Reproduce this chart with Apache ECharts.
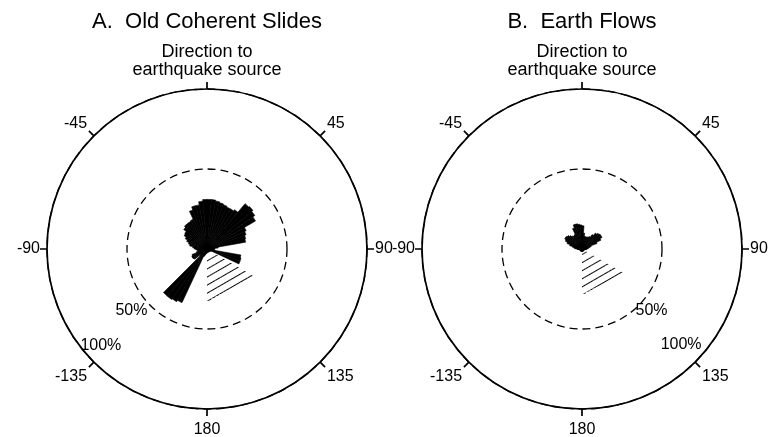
<!DOCTYPE html>
<html><head><meta charset="utf-8">
<script src="https://cdn.jsdelivr.net/npm/echarts@6.0.0/dist/echarts.min.js"></script>
<style>html,body{margin:0;padding:0;background:#fff}#c{width:772px;height:437px}</style>
</head><body><div id="c"></div>
<script>
// 5-degree direction bins, clockwise from the direction to the earthquake source
const binLabels = ['0','5','10','15','20','25','30','35','40','45','50','55','60','65','70','75','80','85',
  '90','95','100','105','110','115','120','125','130','135','140','145','150','155','160','165','170','175',
  '180','185','190','195','200','205','210','215','220','225','230','235','240','245','250','255','260','265',
  '270','275','280','285','290','295','300','305','310','315','320','325','330','335','340','345','350','355'];

// A. Old coherent slides (percent of slides per bin)
const slidesSolid = [31,31,30.5,30,29.5,29,29,30,37,37.5,36.5,35,27,26,25,24.5,7,5,
  4,5,21.5,22,22,3,2,2,2,2,2,2,2,2,2,2,2,2,
  2,3,3,4,5,37,38,38.5,38.5,6,10,10.5,10.5,10,7,6,6,7,
  8,9,11,12,13.5,15,16.5,17,19,20,20,20,20.5,26,28,28,30,31];
const slidesHatched = [null,null,null,null,null,null,null,null,null,null,null,null,null,null,null,null,null,null,
  null,null,null,null,null,null,33,31.5,30.5,29.7,29.2,29,29,29.1,29.5,30.1,31.1,32.3,
  null,null,null,null,null,null,null,null,null,null,null,null,null,null,null,null,null,null,
  null,null,null,null,null,null,null,null,null,null,null,null,null,null,null,null,null,null];

// B. Earth flows
const flowsSolid = [14.5,10,8,8,8,8.5,9,11,13,14,14.5,14.5,13,10,6,5,4,3.5,
  3,2.5,1.5,1.5,1.5,1.5,1.5,1.5,1.5,1.5,1.5,1.5,1.5,1.5,1.5,1.5,1.5,1.5,
  1.5,1.5,1.5,1.5,1.5,1.5,1.5,1.5,1.5,1.5,1.5,1.5,1.5,1.5,1.5,1.5,2.5,3,
  4,5,6,8,10,11.5,12.5,12.5,12,11,10,9.5,10,14,16,16,15.5,15];
const flowsHatched = [null,null,null,null,null,null,null,null,null,null,null,null,null,null,null,null,null,null,
  null,null,null,null,null,null,29.5,28.2,27.2,26.4,25.9,25.6,25.45,25.5,25.8,26.3,27,28,
  null,null,null,null,null,null,null,null,null,null,null,null,null,null,null,null,null,null,
  null,null,null,null,null,null,null,null,null,null,null,null,null,null,null,null,null,null];

const tickAngles = [0,45,90,135,180,225,270,315];
const tickLabels = ['','45','90','135','180','-135','-90','-45'];
const panelTitles = ['A.  Old Coherent Slides','B.  Earth Flows'];
const sourceLabel = 'Direction to\nearthquake source';
const radiusLabels = ['50%','100%'];
const radiusLabelValues = [50,100];
const radiusLabelAngles = [225,135];

const FONT = '"Liberation Sans", Arial, Helvetica, sans-serif';
const panels = [
  {cx:207, cy:249, solid:slidesSolid, hatched:slidesHatched, offsets:[[-19,5],[7,-17]]},
  {cx:582, cy:249, solid:flowsSolid, hatched:flowsHatched, offsets:[[13,5],[-14,-18]]}
];
const R = 160;
// per-angle label padding styles (rich text)
const labelStyleKey = {0:'n',45:'du',90:'e',135:'dl',180:'s',225:'dl',270:'w',315:'du'};
const rich = {
  n:{padding:[4,4,4,4]},
  du:{padding:[0,4,1,4]},
  dl:{padding:[4,4,4,4]},
  e:{padding:[0,0,0,4]},
  w:{padding:[0,3,0,0]},
  s:{padding:[9,0,0,0]}
};

const polar = [], angleAxis = [], radiusAxis = [], series = [], title = [];
panels.forEach((p, k) => {
  const bi = polar.length;
  polar.push({center:[p.cx,p.cy], radius:R});
  polar.push({center:[p.cx,p.cy], radius:R});
  angleAxis.push({polarIndex:bi, type:'category', data:binLabels, boundaryGap:true, startAngle:90, clockwise:true,
    axisLine:{show:false}, axisTick:{show:false}, axisLabel:{show:false}, splitLine:{show:false}, splitArea:{show:false}});
  const richK = {};
  Object.keys(rich).forEach(key => { richK[key] = Object.assign({fontSize:16, color:'#000', fontFamily:FONT}, rich[key]); });
  angleAxis.push({polarIndex:bi+1, type:'value', min:0, max:360, interval:45, startAngle:90, clockwise:true,
    axisLine:{show:true, lineStyle:{color:'#000', width:1.7}},
    axisTick:{show:true, length:7, lineStyle:{color:'#000', width:1.7}},
    axisLabel:{show:true, margin:4, fontSize:16, color:'#000', fontFamily:FONT, rich:richK,
      formatter:(v)=>{const i=tickAngles.indexOf(v); if(i<0||!tickLabels[i]) return ''; return '{'+labelStyleKey[v]+'|'+tickLabels[i]+'}';}},
    splitLine:{show:false}, splitArea:{show:false}});
  radiusAxis.push({polarIndex:bi, type:'value', min:0, max:100, interval:50,
    axisLine:{show:false}, axisTick:{show:false}, axisLabel:{show:false},
    splitLine:{show:true, lineStyle:{color:'#000', width:1.3, type:[8,5]}}, splitArea:{show:false}});
  radiusAxis.push({polarIndex:bi+1, type:'value', min:0, max:100,
    axisLine:{show:false}, axisTick:{show:false}, axisLabel:{show:false}, splitLine:{show:false}, splitArea:{show:false}});
  series.push({type:'bar', coordinateSystem:'polar', polarIndex:bi, data:p.hatched, barCategoryGap:'0%', barGap:'-100%',
    z:2, silent:true,
    itemStyle:{color:'rgba(0,0,0,0)', decal:{symbol:'rect', symbolSize:1, color:'#000', backgroundColor:null,
      dashArrayX:[1,0], dashArrayY:[1,6], rotation:-Math.PI/6}}});
  series.push({type:'bar', coordinateSystem:'polar', polarIndex:bi, data:p.solid, barCategoryGap:'0%', barGap:'-100%',
    z:3, silent:true, itemStyle:{color:'#000', borderColor:'#000', borderWidth:0.6}});
  series.push({type:'scatter', coordinateSystem:'polar', polarIndex:bi+1, symbolSize:0, silent:true, z:5,
    itemStyle:{opacity:1},
    data: radiusLabelValues.map((r,i)=>({value:[r, radiusLabelAngles[k]],
      label:{show:true, position:'inside', offset:p.offsets[i], formatter:radiusLabels[i],
        fontSize:16, color:'#000', opacity:1, fontFamily:FONT}}))});
  title.push({text:panelTitles[k], left:p.cx, top:11, textAlign:'center', padding:0,
    textStyle:{fontSize:22, fontWeight:'normal', color:'#000', fontFamily:FONT, lineHeight:22}});
  title.push({text:sourceLabel, left:p.cx, top:43, textAlign:'center', padding:0,
    textStyle:{fontSize:18, fontWeight:'normal', color:'#000', fontFamily:FONT, lineHeight:18}});
});

const chart = echarts.init(document.getElementById('c'), null, {renderer:'canvas'});
chart.setOption({animation:false, backgroundColor:'#fff', title, polar, angleAxis, radiusAxis, series});
</script></body></html>
